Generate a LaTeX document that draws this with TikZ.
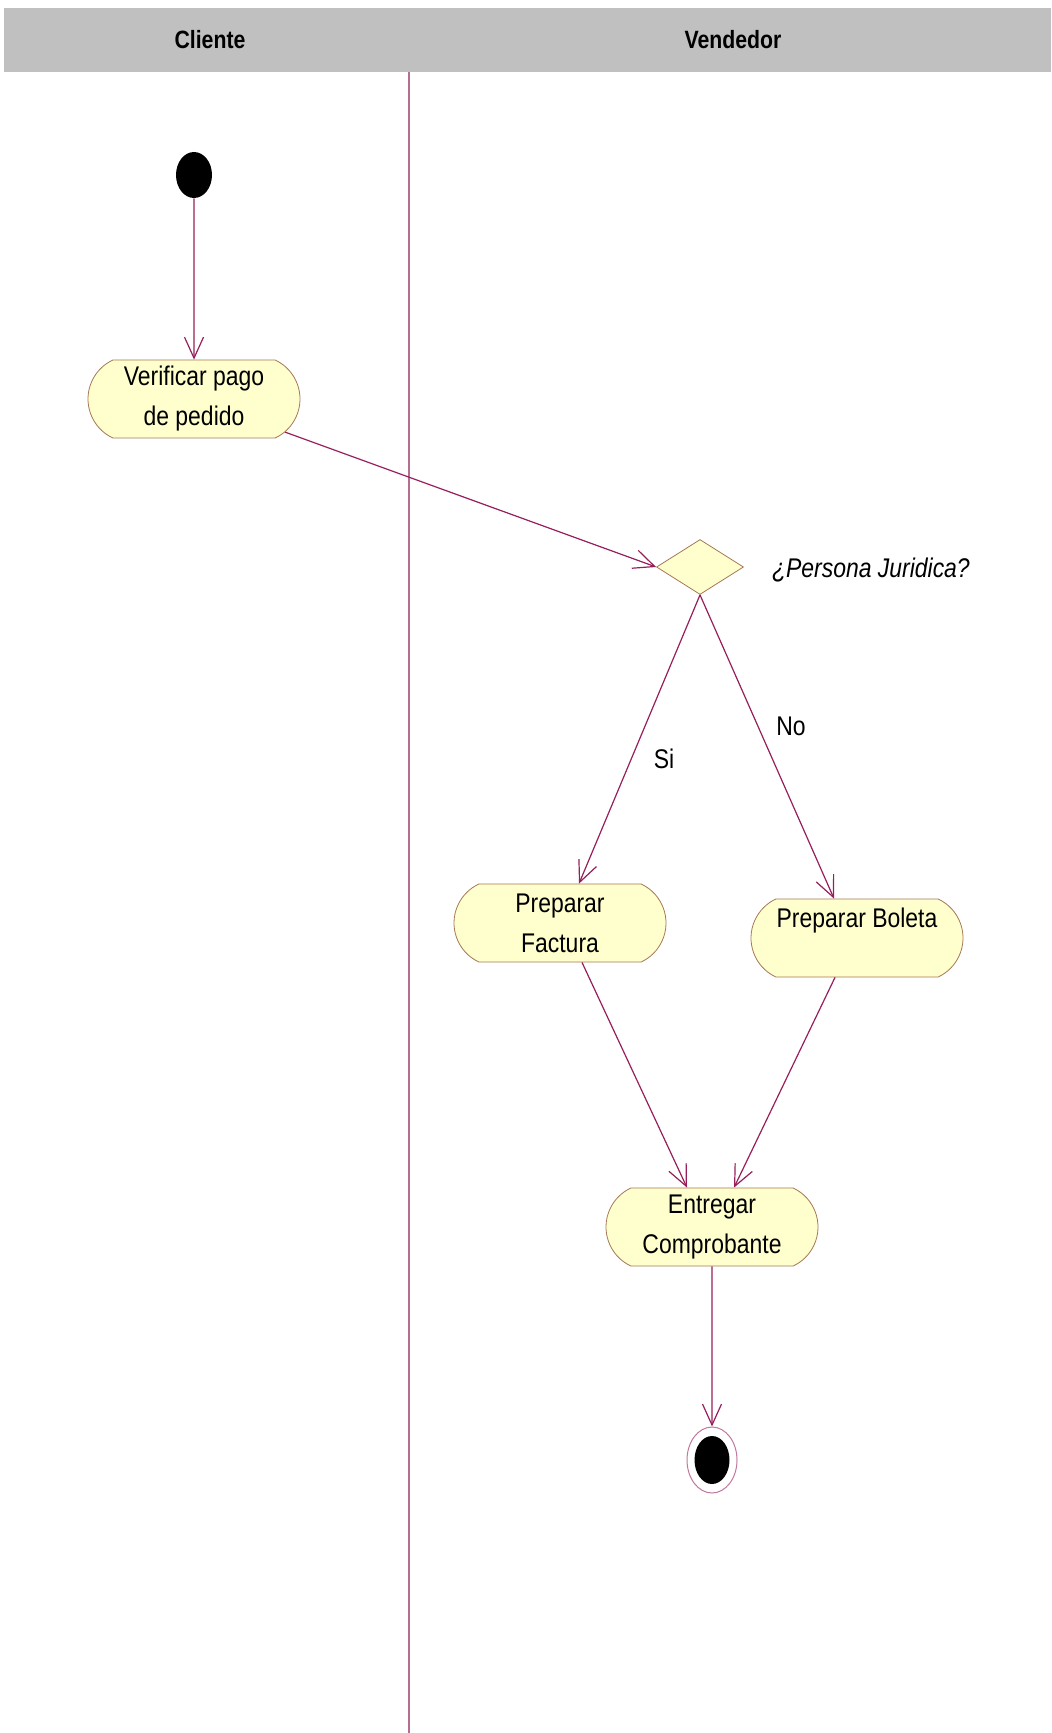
\documentclass[tikz,border=0pt]{standalone}
\usepackage{fontspec}
\setmainfont{Liberation Sans}[FakeStretch=0.85]
\usetikzlibrary{arrows.meta,positioning,shapes.geometric,shapes.misc}

\definecolor{flowline}{RGB}{150,30,90}
\definecolor{laneline}{RGB}{180,110,145}
\definecolor{actfill}{RGB}{255,255,206}
\definecolor{actborder}{RGB}{165,120,85}
\definecolor{headgray}{RGB}{192,192,192}

\tikzset{
  activity/.style={rounded rectangle, rounded rectangle arc length=130,
    draw=actborder, fill=actfill, minimum width=106pt, minimum height=39pt,
    inner sep=0pt, align=center, font=\fontsize{13.5}{20}\selectfont},
  flow/.style={draw=flowline, line width=0.6pt,
    -{Straight Barb[length=10.5pt, width=9.5pt, line width=0.6pt]}},
  guard/.style={font=\fontsize{13.5}{16}\selectfont},
  lanehead/.style={font=\bfseries\fontsize{12.5}{15}\selectfont}
}

\begin{document}
\begin{tikzpicture}[x=0.5pt, y=-0.5pt]
                \useasboundingbox (0,0) rectangle (1051,1733);
                % swimlanes
                \fill[headgray] (4,8) rectangle (1051,72);
                \node[lanehead] (cliente) at (210,40) {Cliente};
                \node[lanehead] (vendedor) at (733,40) {Vendedor};
                \draw[laneline, line width=0.8pt] (409,72) -- (409,1733);
                % nodes
                \node[ellipse, fill=black, minimum width=18pt, minimum height=23pt, inner sep=0pt] (inicio) at (194,175) {};
                \node[activity] (verificar) at (194,399) {Verificar pago\\de pedido};
                \node[diamond, draw=actborder, fill=actfill, minimum width=43.5pt, minimum height=27.5pt, inner sep=0pt] (decision) at (700,567) {};
                \node[guard, font=\itshape\fontsize{13.5}{16}\selectfont, anchor=west] (pregunta) at (765,570) {¿Persona Juridica?};
                \node[activity] (factura) at (560,923) {Preparar\\Factura};
                \node[activity] (boleta) at (857,938) {Preparar Boleta\\\mbox{}};
                \node[activity] (entregar) at (712,1227) {Entregar\\Comprobante};
                \node[ellipse, draw=flowline!60, fill=white, line width=0.5pt, minimum width=25pt, minimum height=33pt, inner sep=0pt] (fin) at (712,1460) {};
                \node[ellipse, fill=black, minimum width=17.5pt, minimum height=24pt, inner sep=0pt] (finpunto) at (fin) {};
                % transitions
                \draw[flow] (inicio) -- (verificar);
                \draw[flow] (verificar) -- (decision.west);
                \draw[flow] (decision.south) -- ([xshift=9.5pt]factura.north);
                \draw[flow] (decision.south) -- ([xshift=-11.5pt]boleta.north);
                \draw[flow] ([xshift=11pt]factura.south) -- ([xshift=-12.5pt]entregar.north);
                \draw[flow] ([xshift=-11pt]boleta.south) -- ([xshift=11pt]entregar.north);
                \draw[flow] (entregar) -- (fin.north);
                % guards
                \node[guard] (si) at (664,759) {Si};
                \node[guard] (no) at (791,726) {No};
\end{tikzpicture}
\end{document}
